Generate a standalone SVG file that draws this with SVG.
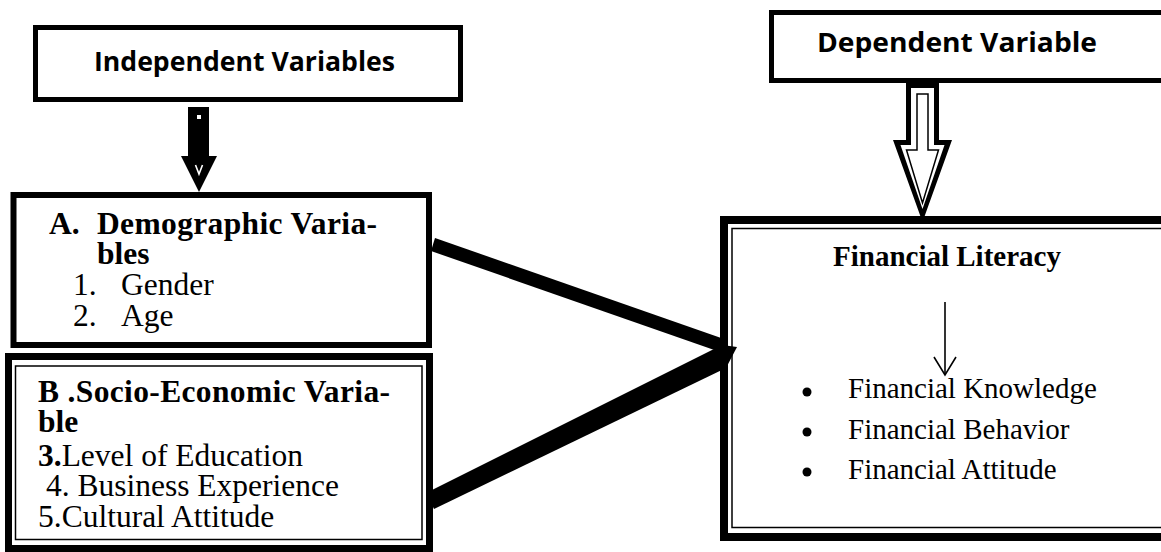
<svg xmlns="http://www.w3.org/2000/svg" width="1161" height="552" viewBox="0 0 1161 552">
<style>
.box{fill:#fff;stroke:#000}
.head{font-family:"Open Sans","Liberation Sans",sans-serif;font-weight:bold;font-size:26px;fill:#000}
.tb{font-family:"Liberation Serif","Times New Roman",serif;font-weight:bold;font-size:31.5px;fill:#000}
.tr{font-family:"Liberation Serif","Times New Roman",serif;font-size:31.5px;fill:#000}
.rb{font-family:"Liberation Serif","Times New Roman",serif;font-weight:bold;font-size:29px;fill:#000}
.rr{font-family:"Liberation Serif","Times New Roman",serif;font-size:29px;fill:#000}
</style>
<rect width="1161" height="552" fill="#fff"/>

<g id="independent">
<rect class="box" x="35.5" y="27.5" width="425" height="72" stroke-width="5"/>
<text class="head" x="94" y="71" textLength="301" lengthAdjust="spacingAndGlyphs">Independent Variables</text>
</g>

<g id="dependent">
<rect class="box" x="771.5" y="12.5" width="410" height="68" stroke-width="5"/>
<text class="head" x="817" y="52" textLength="280" lengthAdjust="spacingAndGlyphs">Dependent Variable</text>
</g>

<g id="demographic">
<rect class="box" x="13.5" y="195" width="415.5" height="150" stroke-width="6"/>
<text class="tb" x="49" y="234">A.</text>
<text class="tb" x="97" y="234" textLength="280">Demographic Varia-</text>
<text class="tb" x="97" y="264">bles</text>
<text class="tr" x="73" y="295">1.</text>
<text class="tr" x="121" y="295">Gender</text>
<text class="tr" x="73" y="326">2.</text>
<text class="tr" x="121" y="326">Age</text>
</g>

<g id="socio">
<rect class="box" x="8.5" y="356.5" width="421" height="192" stroke-width="7"/>
<rect fill="none" stroke="#000" x="15.5" y="366" width="406.5" height="173.5" stroke-width="1.5"/>
<text class="tb" x="38" y="402" textLength="352">B .Socio-Economic Varia-</text>
<text class="tb" x="38" y="432">ble</text>
<text class="tr" x="38" y="466"><tspan font-weight="bold">3.</tspan>Level of Education</text>
<text class="tr" x="38" y="496" xml:space="preserve"> 4. Business Experience</text>
<text class="tr" x="38" y="527">5.Cultural Attitude</text>
</g>

<g id="financial-literacy">
<rect class="box" x="724" y="220" width="460" height="317" stroke-width="8"/>
<rect fill="none" stroke="#000" x="732" y="228.5" width="450" height="299" stroke-width="1.5"/>
<text class="rb" x="833" y="266">Financial Literacy</text>
<line x1="945" y1="302" x2="945" y2="374" stroke="#000" stroke-width="1.6"/>
<polyline points="934,357 945,375 956,357" fill="none" stroke="#000" stroke-width="1.6"/>
<circle cx="807" cy="392" r="4.5" fill="#000"/>
<circle cx="807" cy="432" r="4.5" fill="#000"/>
<circle cx="807" cy="472" r="4.5" fill="#000"/>
<text class="rr" x="848" y="398">Financial Knowledge</text>
<text class="rr" x="848" y="439">Financial Behavior</text>
<text class="rr" x="848" y="479">Financial Attitude</text>
</g>

<g id="connectors">
<g id="arrow-independent">
<polygon points="188,107 209,107 209,156 217,156 199,192 181,156 188,156" fill="#000"/>
<rect x="197" y="115" width="4" height="4" fill="#fff"/>
<polyline points="195.5,165 199,174 202.5,165" fill="none" stroke="#fff" stroke-width="1.6"/>
</g>
<g id="arrow-dependent">
<polygon points="906,83 939,83 939,140 952,140 922.5,222 893,140 906,140" fill="#000"/>
<polygon points="911,88 934,88 934,145 944.5,145 922.5,209 900.5,145 911,145" fill="#fff"/>
<polygon points="917,94 928,94 928,150 938.5,150 922.5,203 906.5,150 917,150" fill="#fff" stroke="#000" stroke-width="1.5"/>
</g>
<polygon id="line-demographic" points="435,238 431,251 720,352 724,339" fill="#000"/>
<polygon id="line-socio" points="426,493 434,509 726,368 737,347 722,345" fill="#000"/>
</g>
</svg>
